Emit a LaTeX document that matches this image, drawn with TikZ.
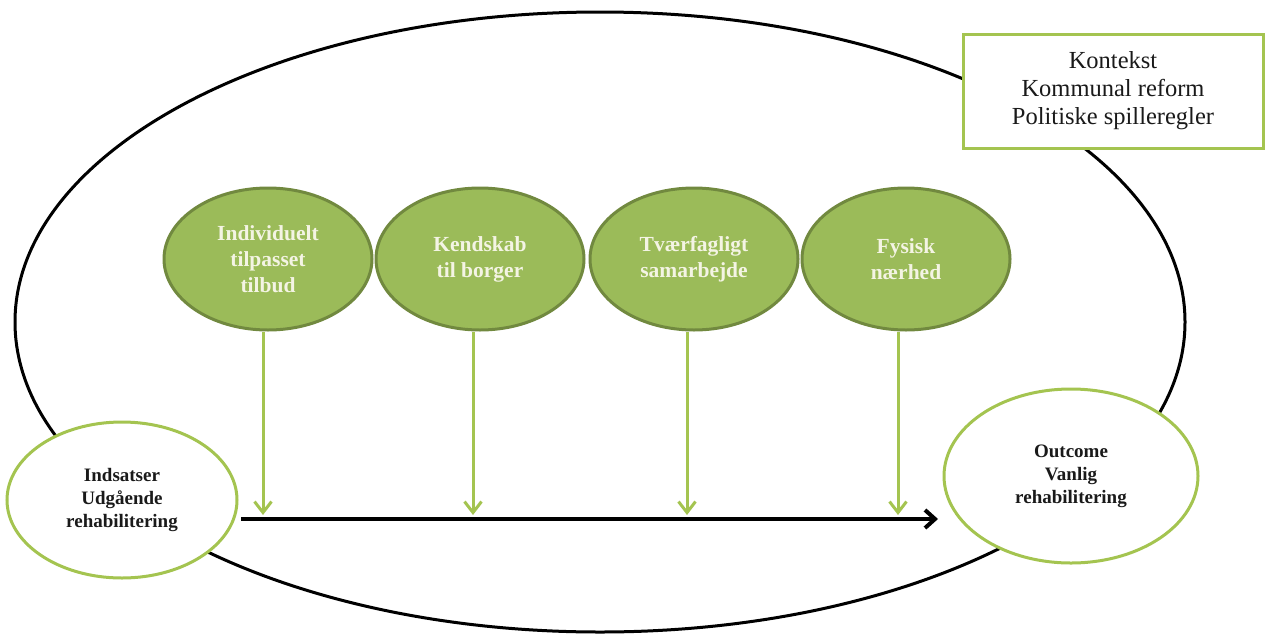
\documentclass[tikz,border=0pt]{standalone}
\usepackage{fontspec}
\setmainfont{Liberation Serif}
\usetikzlibrary{shapes.geometric,arrows.meta}
\definecolor{leaf}{HTML}{9BBB59}
\definecolor{leafdark}{HTML}{71893F}
\definecolor{leaflight}{HTML}{A4C450}
\definecolor{cream}{HTML}{F4F4E4}
\definecolor{ink}{HTML}{1A1A1A}
\begin{document}
\begin{tikzpicture}[x=1pt,y=-1pt,
  factor/.style={ellipse,draw=leafdark,line width=3pt,fill=leaf,
    minimum width=208pt,minimum height=142pt,inner sep=0pt,
    text=cream,font=\bfseries\fontsize{21.5}{26}\selectfont,align=center},
  endpoint/.style={ellipse,draw=leaflight,line width=3pt,fill=white,inner sep=0pt,
    text=ink,font=\bfseries\fontsize{19}{23}\selectfont,align=center},
  contextbox/.style={rectangle,draw=leaflight,line width=3pt,fill=white,inner sep=0pt,
    minimum width=300pt,minimum height=114pt,
    text=ink,font=\fontsize{24.5}{28}\selectfont,align=center},
  garrow/.style={draw=leaflight,line width=3pt,-{Straight Barb[length=11pt,width=17pt,line width=3pt]}},
  karrow/.style={draw=black,line width=4pt,-{Straight Barb[length=10pt,width=18pt,line width=4pt]}}
]
\useasboundingbox (0,0) rectangle (1266,635);

% outer frame
\node (frame) [ellipse,draw=black,line width=3pt,minimum width=1170pt,minimum height=620pt,inner sep=0pt] at (600,322) {};

% context box
\node (ctx) [contextbox] at (1113,91) {Kontekst\\Kommunal reform\\Politiske spilleregler};

% mechanisms
\node (f1) [factor] at (268,259) {Individuelt\\tilpasset\\tilbud};
\node (f2) [factor] at (480,259) {Kendskab\\til borger};
\node (f3) [factor] at (694,259) {Tværfagligt\\samarbejde};
\node (f4) [factor] at (906,259) {Fysisk\\nærhed};

% intervention and outcome
\node (inp) [endpoint,minimum width=230pt,minimum height=156pt] at (122,500) {Indsatser\\Udgående\\rehabilitering};
\node (out) [endpoint,minimum width=254pt,minimum height=174pt] at (1071,476) {Outcome\\Vanlig\\rehabilitering};

% arrow end points
\coordinate (t1) at (263,515);
\coordinate (t2) at (473,515);
\coordinate (t3) at (687,515);
\coordinate (t4) at (898,515);
\coordinate (hs) at (241,519);
\coordinate (he) at (938,519);

\draw[garrow] (f1.south -| t1) -- (t1);
\draw[garrow] (f2.south -| t2) -- (t2);
\draw[garrow] (f3.south -| t3) -- (t3);
\draw[garrow] (f4.south -| t4) -- (t4);

\draw[karrow] (hs) -- (he);
\end{tikzpicture}
\end{document}
